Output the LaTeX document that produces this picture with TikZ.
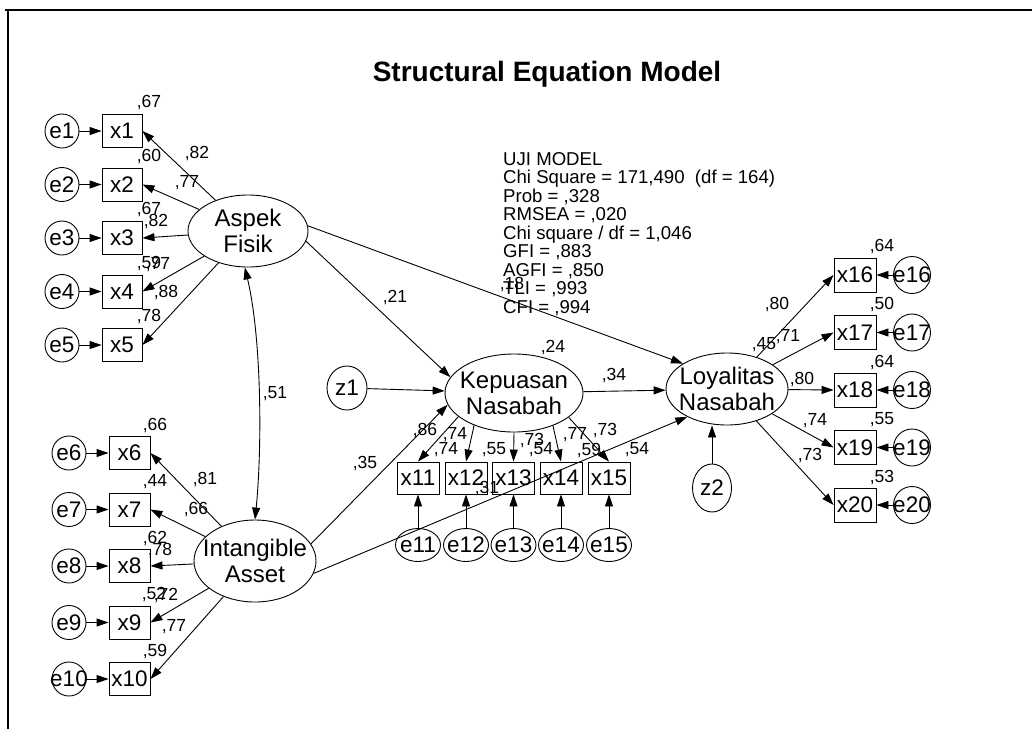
\documentclass[tikz,border=0pt]{standalone}
\usepackage{fontspec}
\setmainfont{Liberation Sans}
\usetikzlibrary{arrows.meta,shapes.geometric}
\begin{document}
\begin{tikzpicture}[x=1pt,y=-1pt,
  lat/.style={ellipse,draw,line width=0.9pt,inner sep=-10pt,align=center,font={\fontsize{24}{26}\selectfont}},
  obs/.style={rectangle,draw,line width=0.9pt,inner sep=0pt,minimum width=42pt,minimum height=33pt,font={\fontsize{22.5}{24}\selectfont}},
  err/.style={circle,draw,line width=0.9pt,inner sep=-4pt,minimum size=34pt,font={\fontsize{22.5}{24}\selectfont}},
  erv/.style={ellipse,draw,line width=0.9pt,inner sep=-4pt,minimum width=45pt,minimum height=33pt,font={\fontsize{22.5}{24}\selectfont}},
  num/.style={inner sep=0pt,font={\fontsize{17.5}{19}\selectfont}},
  arr/.style={line width=0.9pt,-{Triangle[length=12pt,width=8pt]}},
  darr/.style={line width=0.9pt,{Triangle[length=12pt,width=8pt]}-{Triangle[length=12pt,width=8pt]}},
  frameline/.style={line width=1.8pt}
]
\useasboundingbox (0,0) rectangle (1032,729);
% frame
\coordinate (fTL) at (8,10);
\coordinate (fTR) at (1032,10);
\coordinate (fBL) at (8,729);
\draw[frameline] (5,10) -- (fTR);
\draw[frameline] (fTL) -- (fBL);

% title
\node[inner sep=0pt,font={\bfseries\fontsize{28}{32}\selectfont}] (title) at (547,74) {Structural Equation Model};

% fit statistics
\node[align=left,anchor=north west,inner sep=0pt,font={\fontsize{18.6}{18.5}\selectfont}] (uji) at (503,152)
 {UJI MODEL\\Chi Square = 171,490\ \ (df = 164)\\Prob = ,328\\RMSEA = ,020\\Chi square / df = 1,046\\GFI = ,883\\AGFI = ,850\\TLI = ,993\\CFI = ,994};

% latent variables
\node[lat,minimum width=120pt,minimum height=72pt] (AF) at (248,231) {Aspek\\Fisik};
\node[lat,minimum width=122pt,minimum height=82pt] (IA) at (255,561) {Intangible\\Asset};
\node[lat,minimum width=138pt,minimum height=78pt] (KN) at (514,393) {Kepuasan\\Nasabah};
\node[lat,minimum width=122pt,minimum height=72pt] (LN) at (727,389) {Loyalitas\\Nasabah};
\node[erv,minimum width=40pt,minimum height=44pt] (z1) at (347,388) {z1};
\node[erv,minimum width=39pt,minimum height=48pt] (z2) at (712,488) {z2};

% Aspek Fisik indicators
\foreach \i/\y in {1/131,2/184.5,3/238,4/291.5,5/345} {
  \node[obs,minimum width=40pt] (x\i) at (122,\y) {x\i};
  \node[err] (e\i) at (62,\y) {e\i};
  \draw[arr] (e\i) -- (x\i);
  \draw[arr] (AF) -- (x\i.east);
}
% Intangible Asset indicators
\foreach \i/\y in {6/453,7/509.5,8/566,9/622.5,10/679} {
  \node[obs,minimum width=41pt] (x\i) at (129.5,\y) {x\i};
  \node[err] (e\i) at (69,\y) {e\i};
  \draw[arr] (e\i) -- (x\i);
  \draw[arr] (IA) -- (x\i.east);
}
% Kepuasan Nasabah indicators
\foreach \i/\x/\a in {11/418/203,12/466/219,13/513.5/270,14/561/320,15/609/336} {
  \node[obs,minimum height=32pt] (x\i) at (\x,478) {x\i};
  \node[erv] (e\i) at (\x,545) {e\i};
  \draw[arr] (e\i) -- (x\i);
  \draw[arr] (KN.\a) -- (x\i.north);
}
% Loyalitas Nasabah indicators
\foreach \i/\y in {16/275,17/332.5,18/390,19/447.5,20/505} {
  \node[obs,minimum height=34pt] (x\i) at (855,\y) {x\i};
  \node[err,minimum size=37pt] (e\i) at (912,\y) {e\i};
  \draw[arr] (e\i) -- (x\i);
  \draw[arr] (LN) -- (x\i.west);
}

% structural paths
\draw[arr] (AF.5) -- (LN.150);
\draw[arr] (AF.-10) -- (KN.166);
\draw[arr] (IA.17) -- (KN.190);
\draw[arr] (IA.-12) -- (LN.215);
\draw[arr] (z1) -- (KN);
\draw[arr] (KN) -- (LN);
\draw[arr] (z2.north) -- (z2.north |- LN.south);
\draw[darr] (AF.265) .. controls (262,340) and (262,450) .. (IA.north);

% squared multiple correlations
\node[num] (r1) at (149,103) {,67};
\node[num] (r2) at (149,156.5) {,60};
\node[num] (r3) at (149,210) {,67};
\node[num] (r4) at (149,264) {,59};
\node[num] (r5) at (149,317) {,78};
\node[num] (r6) at (155,425) {,66};
\node[num] (r7) at (155,481.5) {,44};
\node[num] (r8) at (155,538) {,62};
\node[num] (r9) at (154,594.5) {,52};
\node[num] (r10) at (155,651) {,59};
\node[num] (r11) at (446,450) {,74};
\node[num] (r12) at (494,450) {,55};
\node[num] (r13) at (541,450) {,54};
\node[num] (r14) at (589,450) {,59};
\node[num] (r15) at (637,450) {,54};
\node[num] (r16) at (882,247) {,64};
\node[num] (r17) at (882,304.5) {,50};
\node[num] (r18) at (882,362) {,64};
\node[num] (r19) at (882,419.5) {,55};
\node[num] (r20) at (882,477) {,53};
\node[num] (rKN) at (553,347) {,24};
\node[num] (rLN) at (764,345) {,45};

% loadings
\node[num] (l1) at (197,154) {,82};
\node[num] (l2) at (187,183) {,77};
\node[num] (l3) at (156,222) {,82};
\node[num] (l4) at (158,265) {,77};
\node[num] (l5) at (166,293) {,88};
\node[num] (l6) at (205,479) {,81};
\node[num] (l7) at (196,509) {,66};
\node[num] (l8) at (160,550) {,78};
\node[num] (l9) at (166,595) {,72};
\node[num] (l10) at (174,627) {,77};
\node[num] (l11) at (425,430) {,86};
\node[num] (l12) at (455,435) {,74};
\node[num] (l13) at (532,440) {,73};
\node[num] (l14) at (575,435) {,77};
\node[num] (l15) at (605,430) {,73};
\node[num] (l16) at (777,305) {,80};
\node[num] (l17) at (788,337) {,71};
\node[num] (l18) at (802,379) {,80};
\node[num] (l19) at (815,421) {,74};
\node[num] (l20) at (810,455) {,73};

% structural coefficients
\node[num] (bAK) at (395,298) {,21};
\node[num] (bAL) at (512,285) {,18};
\node[num] (bIK) at (365,463) {,35};
\node[num] (bIL) at (487,488) {,31};
\node[num] (bKL) at (614,375) {,34};
\node[num] (cAI) at (275,394) {,51};
\end{tikzpicture}
\end{document}
